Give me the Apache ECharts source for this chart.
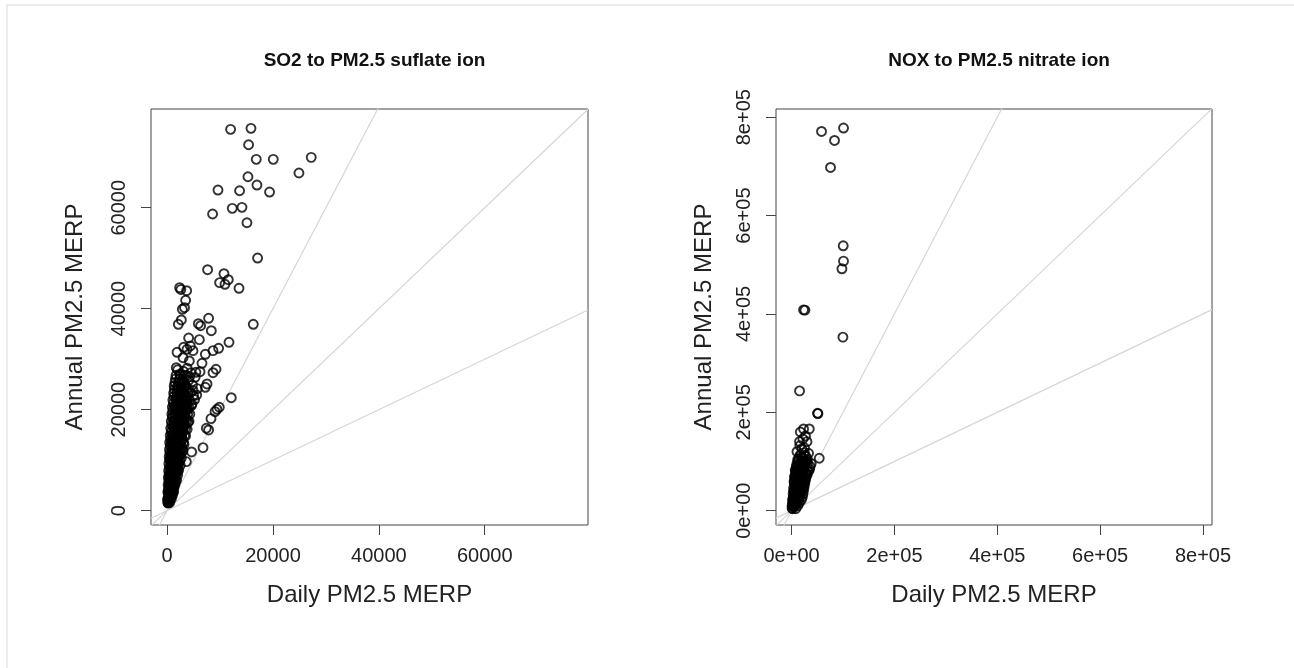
<!DOCTYPE html>
<html>
<head>
<meta charset="utf-8">
<script src="https://cdn.jsdelivr.net/npm/echarts@6/dist/echarts.min.js"></script>
<style>
html,body{margin:0;padding:0;background:#fff;}
#chart{width:1294px;height:668px;}
</style>
</head>
<body>
<div id="chart"></div>
<script>
// ---- Data ----
const titles = ["SO2 to PM2.5 suflate ion", "NOX to PM2.5 nitrate ion"];
const xName = "Daily PM2.5 MERP";
const yName = "Annual PM2.5 MERP";
const refSlopes = [2, 1, 0.5];

const so2Ticks = [0, 20000, 40000, 60000];
const noxTicks = [0, 200000, 400000, 600000, 800000];
const noxTickLabels = ["0e+00", "2e+05", "4e+05", "6e+05", "8e+05"];

// SO2: daily vs annual (outliers and spread)
const so2Daily = [
  12000,15850,15400,16850,20060,27230,24910,15280,16980,19360,9620,13700,8600,12320,14150,15090,17100,
  7660,10750,11570,9930,10940,13590,16290,2380,3700,3510,2890,2700,2130,5910,6340,7850,8360,11700,4080,
  6100,9740,8680,7230,1890,3130,3770,4400,4900,3020,4210,6600,6230,8680,9250,1750,7550,7230,5720,12130,
  9870,9430,9060,8300,7420,7850,6790,4640,3640,2600,3300,
  200,350,500,300,700,450,900,600,250,1100,800,500,1300,950,400,1500,700,1100,1800,550,1300,900,2000,1600,
  700,1200,2200,1900,800,1400,2500,1000,2100,1700,600,2700,1300,2300,900,1900,3000,1500,2600,1100,2100,3200,
  800,1700,2800,1300,2300,3500,1000,1900,2900,1500,3800,2400,1200,3200,2000,4000,1600,2700,3600,1100,2200,
  4300,3000,1800,3900,2500,1400,4600,3300,2100,4200,2800,1700,3600,5000,2400,4400,3100,1900,3800,2600,4800,
  3300,2200,4100,2900,5300,3600,2400,4500,3100,2000,3800,
  150,400,650,280,520,830,1000,380,720,1250,1600,560,900,1450,2050,1150,1750,2400,2850,3400,4150,3250,
  2650,3700,4700,5200,5600,4900,3500,2950,4250,5450
];
const so2Annual = [
  75520,75715,72470,69580,69580,69970,66870,66130,64490,63100,63500,63360,58750,59870,60070,57020,50030,
  47720,46930,45740,45150,44830,44040,36900,44160,43560,41660,39880,37760,36900,37020,36630,38090,35640,
  33340,34190,33860,32150,31680,30960,31360,32350,31960,32610,31680,30290,29640,29180,27520,27320,28000,
  28310,25090,24430,24160,22370,20470,20070,19600,18220,16310,15980,12470,11620,9700,43800,40200,
  1500,1800,2100,2400,2600,2900,3100,3400,3600,3800,4100,4300,4500,4800,5000,5200,5500,5800,6000,6300,6500,
  6800,7000,7300,7500,7800,8000,8300,8600,8800,9000,9300,9600,9900,10100,10400,10700,11000,11300,11500,
  11800,12000,12300,12600,12900,13100,13400,13700,14000,14200,14500,14800,15000,15300,15600,15900,16100,
  16400,16700,17000,17300,17500,17800,18000,18300,18600,18900,19100,19400,19700,20000,20300,20600,20800,
  21100,21400,21700,22000,22300,22600,22800,23100,23400,23700,24000,24300,24600,24900,25200,25500,25800,
  26100,26400,26700,27000,27300,27600,27900,28200,
  2000,2700,3300,3900,4600,5400,6100,6900,7700,8500,9400,10200,11000,11900,12700,13600,14400,15200,16000,
  16900,17700,18600,19400,20200,21100,22000,22900,23800,24700,25600,26500,27400
];

// SO2 dense core near the origin: [daily, annual]
const so2Core = [
  [150,1600],[500,1600],[100,2300],[450,2300],[800,2300],[250,3000],[650,3000],[1000,3000],
  [150,3700],[500,3700],[900,3700],[1250,3700],[300,4400],[700,4400],[1100,4400],
  [200,5100],[600,5100],[1000,5100],[1400,5100],[350,5800],[800,5800],[1200,5800],[1600,5800],
  [250,6500],[650,6500],[1050,6500],[1500,6500],[400,7200],[850,7200],[1300,7200],[1750,7200],
  [300,7900],[700,7900],[1150,7900],[1600,7900],[2000,7900],[450,8600],[900,8600],[1400,8600],[1850,8600],
  [350,9300],[800,9300],[1250,9300],[1700,9300],[2200,9300],[500,10000],[950,10000],[1450,10000],[1950,10000],[2400,10000],
  [400,10700],[850,10700],[1300,10700],[1800,10700],[2300,10700],[550,11400],[1000,11400],[1500,11400],[2050,11400],[2600,11400],
  [450,12100],[900,12100],[1400,12100],[1900,12100],[2450,12100],[2900,12100],
  [600,12800],[1100,12800],[1600,12800],[2150,12800],[2700,12800],
  [500,13500],[1000,13500],[1500,13500],[2000,13500],[2550,13500],[3100,13500],
  [700,14200],[1200,14200],[1750,14200],[2300,14200],[2850,14200],
  [600,14900],[1100,14900],[1650,14900],[2200,14900],[2750,14900],[3300,14900],
  [800,15600],[1300,15600],[1850,15600],[2450,15600],[3000,15600],
  [700,16300],[1250,16300],[1800,16300],[2350,16300],[2900,16300],[3500,16300],
  [900,17000],[1450,17000],[2000,17000],[2600,17000],[3200,17000],
  [800,17700],[1350,17700],[1950,17700],[2500,17700],[3100,17700],[3700,17700],
  [1000,18400],[1550,18400],[2150,18400],[2750,18400],[3350,18400],
  [900,19100],[1500,19100],[2100,19100],[2700,19100],[3300,19100],[3900,19100],
  [1100,19800],[1700,19800],[2300,19800],[2900,19800],[3500,19800],
  [1000,20500],[1600,20500],[2200,20500],[2800,20500],[3450,20500],[4100,20500],
  [1200,21200],[1800,21200],[2450,21200],[3100,21200],[3700,21200],
  [1100,21900],[1750,21900],[2400,21900],[3050,21900],[3700,21900],
  [1300,22600],[1950,22600],[2600,22600],[3250,22600],
  [1250,23300],[1900,23300],[2550,23300],[3200,23300],[3900,23300],
  [1400,24000],[2100,24000],[2800,24000],[1350,24700],[2050,24700],[2750,24700],[3450,24700],
  [1500,25400],[2250,25400],[3000,25400],[1600,26100],[2400,26100],[1700,26800],[2500,26800],[3300,26800]
];

// NOX: daily vs annual (outliers and spread)
const noxDaily = [
  58250,100970,83500,75700,100400,100970,97860,23300,26000,99800,15500,51250,50500,23300,34400,29900,15500,
  10500,33000,53800,
  1000,3000,2000,5000,4000,7000,3000,8000,6000,10000,4000,12000,9000,7000,14000,11000,5000,16000,13000,9000,
  18000,15000,20000,11000,17000,22000,14000,24000,19000,26000,12000,21000,28000,18000,25000,30000,33000,
  27000,24000,21000,18000,15000,12000,9000,6000,36000,31000,20000,16000,25000,22000,27000,17000,20000,10000,
  8000,6000,2000,4500,7500,13500,19500,23500,29000,35000,38000,31000
];
const noxAnnual = [
  771100,778000,752800,697900,538600,507400,491800,408300,407700,352800,243500,197400,198000,166200,166200,
  140400,140400,120000,116800,106600,
  5000,8000,12000,15000,20000,22000,26000,30000,34000,36000,40000,42000,46000,50000,52000,56000,60000,62000,
  66000,70000,72000,76000,78000,82000,86000,88000,92000,94000,98000,100000,104000,108000,110000,114000,
  118000,72000,80000,64000,56000,48000,40000,32000,24000,16000,10000,90000,96000,126000,132000,128000,146000,
  152000,160000,100000,90000,80000,68000,18000,28000,38000,46000,58000,66000,74000,84000,96000,104000
];

// NOX dense core near the origin: [daily, annual]
const noxCore = [
  [2000,4000],[8000,4000],[1000,10000],[6000,10000],[12000,10000],[3000,16000],[9000,16000],[15000,16000],
  [2000,22000],[8000,22000],[14000,22000],[19000,22000],[4000,28000],[10000,28000],[16000,28000],[21000,28000],
  [3000,34000],[9000,34000],[15000,34000],[22000,34000],[5000,40000],[11000,40000],[17000,40000],[23000,40000],
  [4000,46000],[10000,46000],[16000,46000],[24000,46000],[6000,52000],[12000,52000],[19000,52000],[25000,52000],
  [5000,58000],[11000,58000],[18000,58000],[26000,58000],[7000,64000],[13000,64000],[20000,64000],[27000,64000],
  [6000,70000],[12000,70000],[19000,70000],[28000,70000],[8000,76000],[15000,76000],[22000,76000],[29000,76000],
  [7000,82000],[14000,82000],[21000,82000],[30000,82000],[9000,88000],[16000,88000],[24000,88000],
  [10000,94000],[18000,94000],[26000,94000],[12000,100000],[20000,100000],[28000,100000],
  [14000,106000],[22000,106000],[16000,112000],[25000,112000]
];

// ---- Chart construction ----
const FONT = "'Liberation Sans', Arial, Helvetica, sans-serif";
const panels = [
  {left: 151, width: 437, xr: [-3030, 79500], yr: [-2850, 79550], ticks: so2Ticks,
   fmt: v => String(v), xs: so2Daily, ys: so2Annual, core: so2Core, title: titles[0], nameGapY: 64},
  {left: 776, width: 436, xr: [-30300, 817500], yr: [-29100, 816700], ticks: noxTicks,
   fmt: v => noxTickLabels[noxTicks.indexOf(v)] || '', xs: noxDaily, ys: noxAnnual, core: noxCore, title: titles[1], nameGapY: 60}
];

const grid = [], xAxis = [], yAxis = [], series = [], title = [];
panels.forEach((p, i) => {
  grid.push({left: p.left, top: 109, width: p.width, height: 416, show: true,
    borderColor: '#444', borderWidth: 1, backgroundColor: 'transparent', containLabel: false});
  title.push({text: p.title, left: p.left + p.width / 2, top: 46, textAlign: 'center',
    textStyle: {fontFamily: FONT, fontSize: 19, fontWeight: 'bold', color: '#111'}});
  const common = {
    type: 'value', gridIndex: i, scale: false,
    axisLine: {show: false, onZero: false},
    axisTick: {show: true, inside: false, length: 10, lineStyle: {color: '#444', width: 1}, customValues: p.ticks},
    splitLine: {show: false},
    nameLocation: 'middle',
    nameTextStyle: {fontFamily: FONT, fontSize: 24, color: '#222'}
  };
  xAxis.push(Object.assign({}, common, {
    min: p.xr[0], max: p.xr[1], name: xName, nameGap: 58,
    axisLabel: {show: true, customValues: p.ticks, formatter: p.fmt, margin: 21,
      fontFamily: FONT, fontSize: 20, color: '#222'}
  }));
  yAxis.push(Object.assign({}, common, {
    min: p.yr[0], max: p.yr[1], name: yName, nameGap: p.nameGapY,
    axisLabel: {show: true, customValues: p.ticks, formatter: p.fmt, margin: 22, rotate: 90,
      fontFamily: FONT, fontSize: 20, color: '#222'}
  }));
  refSlopes.forEach(s => {
    series.push({type: 'line', xAxisIndex: i, yAxisIndex: i, silent: true, showSymbol: false,
      symbol: 'none', clip: true, z: 1, animation: false,
      lineStyle: {color: '#d6d6d6', width: 1.2},
      data: [[p.xr[0], s * p.xr[0]], [p.xr[1], s * p.xr[1]]]});
  });
  const pts = p.xs.map((x, k) => [x, p.ys[k]]).concat(p.core);
  series.push({type: 'scatter', xAxisIndex: i, yAxisIndex: i, symbol: 'circle', symbolSize: 9,
    z: 3, animation: false, silent: true, large: false,
    itemStyle: {color: 'rgba(0,0,0,0)', borderColor: '#000', borderWidth: 1.9},
    data: pts});
});

const chart = echarts.init(document.getElementById('chart'), null, {renderer: 'canvas'});
chart.setOption({
  animation: false,
  backgroundColor: '#fff',
  title, grid, xAxis, yAxis, series,
  graphic: [
    {type: 'rect', shape: {x: 6, y: 4, width: 1288, height: 2}, style: {fill: '#ececec'}, silent: true},
    {type: 'rect', shape: {x: 6, y: 4, width: 2, height: 664}, style: {fill: '#ececec'}, silent: true}
  ]
});
</script>
</body>
</html>
